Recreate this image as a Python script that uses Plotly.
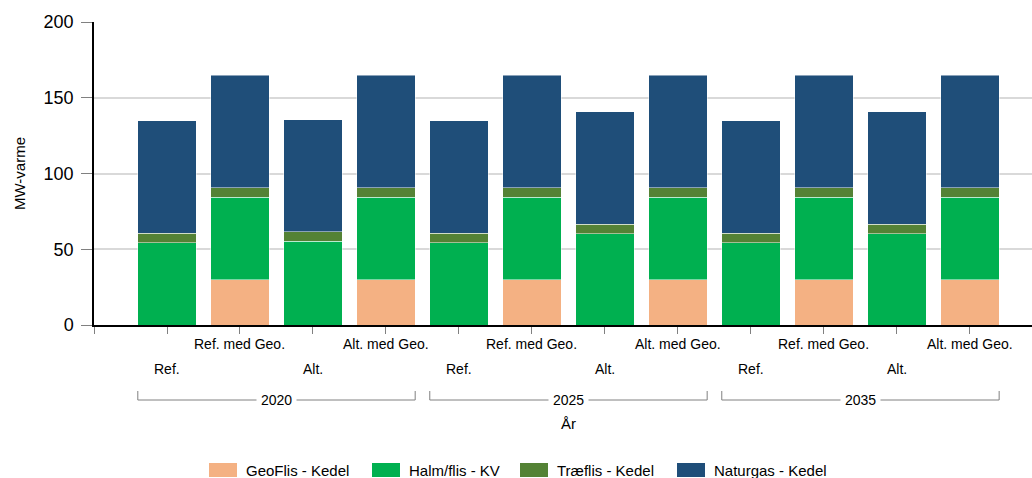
import plotly.graph_objects as go

# ---------------- data ----------------
years = ["2020", "2025", "2035"]
scenarios = ["Ref.", "Ref. med Geo.", "Alt.", "Alt. med Geo."]

geoflis = [0, 30, 0, 30,   0, 30, 0, 30,   0, 30, 0, 30]
halm    = [54.3, 54.3, 55.3, 54.3,   54.3, 54.3, 60.3, 54.3,   54.3, 54.3, 60.3, 54.3]
traeflis = [6.2, 6.2, 6.2, 6.2,   6.2, 6.2, 6.2, 6.2,   6.2, 6.2, 6.2, 6.2]
naturgas = [74.2, 74.4, 74.0, 74.4,   74.2, 74.4, 74.3, 74.4,   74.2, 74.4, 74.3, 74.4]

series_names = ["GeoFlis - Kedel", "Halm/flis - KV", "Træflis - Kedel", "Naturgas - Kedel"]
series_values = [geoflis, halm, traeflis, naturgas]
colors = ["#F4B183", "#00B050", "#548235", "#1F4E79"]

y_ticks = [0, 50, 100, 150, 200]
y_title = "MW-varme"
x_title = "År"

# ---------------- layout constants ----------------
W, H = 1032, 478
ML, MR, MT, MB = 94, 0, 22, 153
PW, PH = W - ML - MR, H - MT - MB
FONT = "Liberation Sans, Arial, sans-serif"

def py(p):  # pixel y -> paper y
    return (H - MB - p) / PH

def px(p):  # pixel x -> paper x
    return (p - ML) / PW

n = len(years) * len(scenarios)
xpos = list(range(n))

fig = go.Figure()
for name, vals, col in zip(series_names, series_values, colors):
    fig.add_trace(go.Bar(
        x=xpos, y=vals, name=name, marker_color=col,
        marker_line=dict(color="rgba(255,255,255,0.8)", width=0.6),
        width=0.8, showlegend=False,
    ))

annotations = []
shapes = []

# category labels (staggered)
for i in range(n):
    s = scenarios[i % len(scenarios)]
    upper = (i % 2 == 1)
    annotations.append(dict(
        x=i, xref="x", y=py(344 if upper else 369), yref="paper",
        text=s, showarrow=False, xanchor="center", yanchor="middle",
        font=dict(family=FONT, size=14, color="#000000"),
    ))

# year brackets
ns = len(scenarios)
for g, yr in enumerate(years):
    x0 = g * ns - 0.4
    x1 = g * ns + ns - 1 + 0.4
    yl, yt = py(400), py(391)
    for xx in (x0, x1):
        shapes.append(dict(type="line", xref="x", yref="paper", x0=xx, x1=xx,
                           y0=yt, y1=yl, line=dict(color="#808080", width=1)))
    shapes.append(dict(type="line", xref="x", yref="paper", x0=x0, x1=x1,
                       y0=yl, y1=yl, line=dict(color="#808080", width=1)))
    annotations.append(dict(
        x=(x0 + x1) / 2, xref="x", y=yl, yref="paper", text=yr,
        showarrow=False, xanchor="center", yanchor="middle",
        bgcolor="white", borderpad=4,
        font=dict(family=FONT, size=14, color="#000000"),
    ))

annotations.append(dict(
    x=(n - 1) / 2, xref="x", y=py(423), yref="paper", text=x_title,
    showarrow=False, xanchor="center", yanchor="middle",
    font=dict(family=FONT, size=15, color="#000000"),
))

# custom legend
leg_x = [209, 372, 520, 677]
for lx, name, col in zip(leg_x, series_names, colors):
    shapes.append(dict(type="rect", xref="paper", yref="paper",
                       x0=px(lx), x1=px(lx + 28), y0=py(477), y1=py(463),
                       fillcolor=col, line=dict(width=0)))
    annotations.append(dict(
        x=px(lx + 35), xref="paper", y=py(470), yref="paper", text=name,
        showarrow=False, xanchor="left", yanchor="middle",
        font=dict(family=FONT, size=15, color="#000000"),
    ))

fig.update_layout(
    width=W, height=H,
    margin=dict(l=ML, r=MR, t=MT, b=MB, pad=0),
    paper_bgcolor="white", plot_bgcolor="white",
    barmode="stack", bargap=0.2,
    font=dict(family=FONT, color="#000000"),
    annotations=annotations, shapes=shapes,
    showlegend=False,
)
fig.update_xaxes(
    range=[-1, 11.85], tickvals=list(range(-1, n)), showticklabels=False,
    ticks="outside", ticklen=7, tickcolor="#808080", tickwidth=1,
    showline=True, linecolor="#000000", linewidth=1.5,
    showgrid=False, zeroline=False,
)
fig.update_yaxes(
    range=[0, 200], tickvals=y_ticks, ticks="outside", ticklen=11,
    tickcolor="#808080", tickwidth=1,
    tickfont=dict(family=FONT, size=18, color="#000000"),
    ticklabelstandoff=4,
    showline=True, linecolor="#000000", linewidth=1.5,
    showgrid=True, gridcolor="#D9D9D9", gridwidth=1.5, zeroline=False,
    title=dict(text=y_title, font=dict(family=FONT, size=15, color="#000000"), standoff=14),
)

fig.write_html("out.html")
